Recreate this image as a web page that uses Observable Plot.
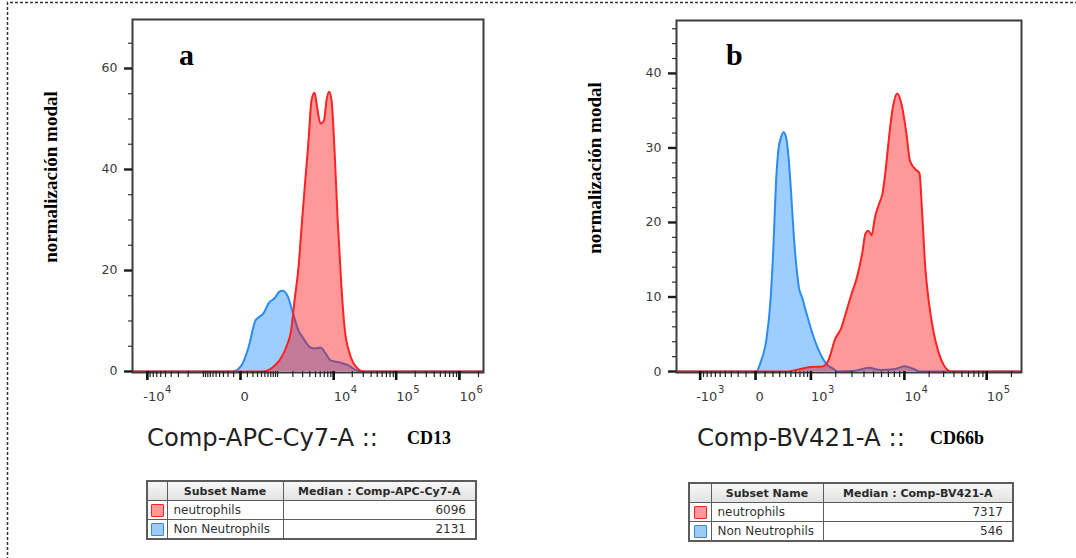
<!DOCTYPE html>
<html>
<head>
<meta charset="utf-8">
<script src="https://cdn.jsdelivr.net/npm/d3@7"></script>
<script src="https://cdn.jsdelivr.net/npm/@observablehq/plot@0.6"></script>
<style>
  body { margin: 0; background: #fff; }
  #wrap { position: relative; width: 1076px; height: 558px; overflow: hidden; background: #fff; }
  .panel { position: absolute; top: 0; }
  #overlay { position: absolute; left: 0; top: 0; pointer-events: none; }
  .tb { position: absolute; border-collapse: collapse; table-layout: fixed;
        font-family: "DejaVu Sans", sans-serif; font-size: 12px; color: #333;
        border: 2px solid #5c5c5c; }
  .tb th, .tb td { border: 1.5px solid #5c5c5c; height: 18px; padding: 0 6px; white-space: nowrap; overflow: hidden; }
  .tb th { font-size: 11px; font-weight: bold; text-align: center;
           background: linear-gradient(#f7f7f7, #e2e2e2); color: #2a2a2a; }
  .tb td.num { text-align: right; padding-right: 9px; }
  .tb td.sw { padding: 0; text-align: center; }
  .swatch { display: inline-block; width: 11px; height: 11px; vertical-align: middle; border-radius: 1px; }
</style>
</head>
<body>
<div id="wrap">
  <div id="pa" class="panel" style="left:0px"></div>
  <div id="pb" class="panel" style="left:540px"></div>
</div>
<script>
// ---------------- data ----------------
const subsetNames = ["neutrophils", "Non Neutrophils"];
const subsetStroke = ["#ff2222", "#2a8cf0"];
const subsetFill = ["#ff9a9a", "#9ccbf6"];

// Panel a : Comp-APC-Cy7-A :: CD13
const aNeutroX = [-17400, 415, 770, 1095, 1487, 1887, 2145, 2534, 2866, 3302, 3800, 4278, 4812, 5320, 6068, 6937, 7630, 8428, 9226, 10330, 11560, 13270, 15020, 18100, 23400, 30300, 2400000];
const aNeutroY = [0, 0, 0.8, 2.2, 4.75, 8.7, 14.1, 20.6, 28.5, 37.2, 45.7, 53.7, 55.2, 52.3, 49.1, 49.7, 53.7, 55.4, 53.7, 43.8, 30.5, 17.4, 8.7, 3.6, 0.8, 0, 0];
const aNonX = [-17400, -110, 13, 118, 254, 324, 457, 619, 855, 1095, 1262, 1583, 2011, 2534, 3110, 4113, 5003, 6068, 7350, 8887, 12460, 17400, 23400, 28200, 2400000];
const aNonY = [0, 0, 1.2, 4.75, 10.1, 10.7, 11.5, 13.5, 14.5, 15.8, 16.0, 15.0, 11.5, 8.1, 6.5, 4.75, 4.55, 4.75, 3.6, 2.2, 1.8, 1.2, 0.2, 0, 0];
const aMedians = [6096, 2131];
const aXMajor = [-10000, 0, 10000, 100000, 1000000];
const aXBase = ["-10", "0", "10", "10", "10"];
const aXExp = ["4", "", "4", "5", "6"];
const aYMajor = [0, 20, 40, 60];
const aYMinor = [5, 10, 15, 25, 30, 35, 45, 50, 55, 65];

// Panel b : Comp-BV421-A :: CD66b
const bNeutroX = [-1940, 422, 715, 990, 1348, 1553, 1700, 1946, 2316, 2632, 2990, 3382, 3828, 4144, 4417, 4775, 5166, 5675, 6134, 6624, 7168, 7736, 8532, 9342, 10590, 11680, 13470, 15240, 16300, 17930, 19730, 22800, 26300, 30300, 36800, 265000];
const bNeutroY = [0, 0, 0.35, 0.6, 0.65, 1.0, 1.9, 4.2, 5.9, 8.2, 10.5, 12.6, 15.8, 18.5, 18.9, 18.3, 20.7, 22.5, 23.9, 27.4, 31.9, 35.4, 37.3, 36.0, 31.9, 28.3, 27.2, 26.6, 22.0, 14.0, 9.5, 5.1, 2.4, 0.8, 0, 0];
const bNonX = [-1940, 6, 58, 115, 167, 204, 243, 279, 321, 362, 409, 454, 501, 557, 619, 674, 757, 848, 945, 1048, 1219, 1413, 1626, 1861, 2124, 3247, 4487, 5873, 7875, 10070, 12590, 15540, 265000];
const bNonY = [0, 0, 1.5, 4.2, 9.5, 16.2, 25.2, 29.7, 31.4, 32.1, 31.4, 28.7, 24.3, 18.5, 14.0, 11.3, 9.9, 8.2, 6.6, 5.1, 3.2, 1.75, 0.8, 0.4, 0, 0.1, 0.5, 0.2, 0.3, 0.7, 0.4, 0, 0];
const bMedians = [7317, 546];
const bXMajor = [-1000, 0, 1000, 10000, 100000];
const bXBase = ["-10", "0", "10", "10", "10"];
const bXExp = ["3", "", "3", "4", "5"];
const bYMajor = [0, 10, 20, 30, 40];
const bYMinor = [2, 4, 6, 8, 12, 14, 16, 18, 22, 24, 26, 28, 32, 34, 36, 38, 42, 44, 46];

// ---------------- biexponential-style display transforms ----------------
function biexA(v) { return Math.sign(v) * Math.log1p(Math.abs(v) / 350); }
function biexB(v) {
  const c = 450, v1 = 1e4, t1 = Math.log1p(v1 / c), s = 0.755;
  const a = Math.abs(v);
  const t = a <= v1 ? Math.log1p(a / c) : t1 + s * Math.log(a / v1);
  return Math.sign(v) * t;
}

function minorTicks(lo, hi, majors) {
  const out = [];
  for (const d of [100, 1000, 1e4, 1e5, 1e6]) {
    for (let m = 1; m <= 9; m++) {
      for (const sgn of [-1, 1]) {
        const v = sgn * m * d;
        if (v >= lo && v <= hi && !majors.includes(v)) out.push(v);
      }
    }
  }
  return out;
}

const zip = (xs, ys) => xs.map((x, i) => ({x, y: ys[i]}));
// approximate advance width of a tick-label base at 13px DejaVu Sans
const baseWidth = s => Array.from(s).reduce((w, ch) => w + (ch === "-" ? 4.7 : 8.27), 0);

function panel(cfg) {
  const {tf, xLo, xHi, yDomain, width, height, ml, mr, mt, mb, red, blue, xMajor, xBase, xExp, yMajor, yMinor} = cfg;
  const frameW = width - ml - mr, frameH = height - mt - mb;
  const xMinor = minorTicks(xLo, xHi, xMajor);
  const X = d => tf(d.x);
  const labels = xMajor.map((v, i) => ({v, base: xBase[i], exp: xExp[i]}));
  const expLabels = labels.filter(d => d.exp);
  return Plot.plot({
    width, height, marginLeft: ml, marginRight: mr, marginTop: mt, marginBottom: mb,
    x: {axis: null, domain: [tf(xLo), tf(xHi)]},
    y: {axis: null, domain: yDomain},
    style: {background: "transparent", overflow: "visible"},
    marks: [
      Plot.areaY(blue, {x: X, y: "y", fill: "#0a84ff", fillOpacity: 0.4, curve: "monotone-x", clip: true}),
      Plot.lineY(blue, {x: X, y: "y", stroke: subsetStroke[1], strokeWidth: 2, curve: "monotone-x", clip: true}),
      Plot.areaY(red, {x: X, y: "y", fill: "#ff0000", fillOpacity: 0.4, curve: "monotone-x", clip: true}),
      Plot.lineY(red, {x: X, y: "y", stroke: subsetStroke[0], strokeWidth: 2, curve: "monotone-x", clip: true}),
      Plot.frame({stroke: "#3c3c3c", strokeWidth: 2}),
      // y ticks
      Plot.ruleY(yMajor, {y: d => d, insetLeft: -8, insetRight: frameW, stroke: "#1a1a1a", strokeWidth: 2.4}),
      Plot.ruleY(yMinor, {y: d => d, insetLeft: -4, insetRight: frameW, stroke: "#333", strokeWidth: 1.2}),
      Plot.text(yMajor, {y: d => d, text: d => String(d), frameAnchor: "left", dx: -15, textAnchor: "end",
        fontSize: 12.5, fontFamily: "DejaVu Sans", fill: "#3a3a3a"}),
      // x ticks
      Plot.ruleX(xMinor, {x: d => tf(d), insetTop: frameH - 1, insetBottom: -5, stroke: "#222", strokeWidth: 1.2}),
      Plot.ruleX(xMajor, {x: d => tf(d), insetTop: frameH - 1, insetBottom: -8, stroke: "#111", strokeWidth: 2.6}),
      Plot.text(labels, {x: d => tf(d.v), text: "base", frameAnchor: "bottom", dy: 28,
        textAnchor: "start", fontSize: 13, fontFamily: "DejaVu Sans", fill: "#3a3a3a",
        ariaLabel: "x-tick-base"}),
      Plot.text(expLabels, {x: d => tf(d.v), text: "exp", frameAnchor: "bottom", dy: 20,
        textAnchor: "start", fontSize: 10, fontFamily: "DejaVu Sans", fill: "#3a3a3a",
        ariaLabel: "x-tick-exp"})
    ]
  });
}

// nudge labels: the minus sign sits before the tick, exponents follow the base digits
function placeLabels(svg, xMajor, xBase, xExp) {
  const groups = svg.querySelectorAll("g[aria-label='text'], g[aria-label='x-tick-base'], g[aria-label='x-tick-exp']");
  const baseG = svg.querySelector("g[aria-label='x-tick-base']") || groups[1];
  const expG = svg.querySelector("g[aria-label='x-tick-exp']") || groups[2];
  baseG.querySelectorAll("text").forEach((n, i) => { if (xMajor[i] < 0) n.setAttribute("dx", "-4"); });
  const expIdx = xMajor.map((v, i) => i).filter(i => xExp[i]);
  expG.querySelectorAll("text").forEach((n, k) => {
    const i = expIdx[k];
    n.setAttribute("dx", String(baseWidth(xBase[i]) + (xMajor[i] < 0 ? -3.5 : 0.5)));
  });
  return svg;
}

const svgA = panel({
  tf: biexA, xLo: -17400, xHi: 2400000, yDomain: [-0.2, 69.7],
  width: 540, height: 420, ml: 132, mr: 57, mt: 19, mb: 48,
  red: zip(aNeutroX, aNeutroY), blue: zip(aNonX, aNonY),
  xMajor: aXMajor, xBase: aXBase, xExp: aXExp, yMajor: aYMajor, yMinor: aYMinor
});
document.getElementById("pa").appendChild(placeLabels(svgA, aXMajor, aXBase, aXExp));
const svgB = panel({
  tf: biexB, xLo: -1940, xHi: 265000, yDomain: [-0.13, 47.1],
  width: 536, height: 420, ml: 136, mr: 55, mt: 20, mb: 48,
  red: zip(bNeutroX, bNeutroY), blue: zip(bNonX, bNonY),
  xMajor: bXMajor, xBase: bXBase, xExp: bXExp, yMajor: bYMajor, yMinor: bYMinor
});
document.getElementById("pb").appendChild(placeLabels(svgB, bXMajor, bXBase, bXExp));

// ---------------- overlay: border, letters, axis titles ----------------
const wrap = d3.select("#wrap");
const ov = wrap.append("svg").attr("id", "overlay").attr("width", 1076).attr("height", 558);
ov.append("path").attr("d", "M7.5,560V2.5H1076").attr("fill", "none")
  .attr("stroke", "#333").attr("stroke-width", 1.5).attr("stroke-dasharray", "3 2");

const serif = "'Liberation Serif', 'Times New Roman', serif";
const sans = "'DejaVu Sans', sans-serif";
const texts = [
  {t: "a", x: 179, y: 65, f: serif, s: 30, w: "bold", fill: "#000"},
  {t: "b", x: 726, y: 65, f: serif, s: 30, w: "bold", fill: "#000"},
  {t: "Comp-APC-Cy7-A ::", x: 147, y: 446, f: sans, s: 24, w: "normal", fill: "#222", len: 231},
  {t: "CD13", x: 407, y: 444, f: serif, s: 18, w: "bold", fill: "#000"},
  {t: "Comp-BV421-A ::", x: 697, y: 446, f: sans, s: 24, w: "normal", fill: "#222", len: 208},
  {t: "CD66b", x: 930, y: 444, f: serif, s: 18, w: "bold", fill: "#000"}
];
for (const d of texts) {
  const t = ov.append("text").attr("x", d.x).attr("y", d.y).text(d.t)
    .attr("font-family", d.f).attr("font-size", d.s).attr("font-weight", d.w).attr("fill", d.fill);
  if (d.len) t.attr("textLength", d.len).attr("lengthAdjust", "spacingAndGlyphs");
}
for (const d of [{x: 57, y: 177}, {x: 601, y: 168}]) {
  ov.append("text").attr("transform", `translate(${d.x},${d.y}) rotate(-90)`)
    .attr("text-anchor", "middle").attr("font-family", serif).attr("font-size", 19)
    .attr("font-weight", "bold").attr("fill", "#000").text("normalización modal");
}

// ---------------- tables ----------------
function table(left, top, width, cols, header, medians) {
  const tb = wrap.append("table").attr("class", "tb")
    .style("left", left + "px").style("top", top + "px").style("width", width + "px");
  const cg = tb.append("colgroup");
  cols.forEach(w => cg.append("col").style("width", w + "px"));
  const hr = tb.append("tr");
  hr.append("th"); hr.append("th").text("Subset Name"); hr.append("th").text(header);
  subsetNames.forEach((n, i) => {
    const tr = tb.append("tr");
    tr.append("td").attr("class", "sw").append("span").attr("class", "swatch")
      .style("background", subsetFill[i]).style("border", `1.5px solid ${subsetStroke[i]}`);
    tr.append("td").text(n);
    tr.append("td").attr("class", "num").text(medians[i]);
  });
}
table(146, 480, 329, [20, 116, 193], "Median : Comp-APC-Cy7-A", aMedians);
table(688, 482, 324, [22, 112, 190], "Median : Comp-BV421-A", bMedians);
</script>
</body>
</html>
